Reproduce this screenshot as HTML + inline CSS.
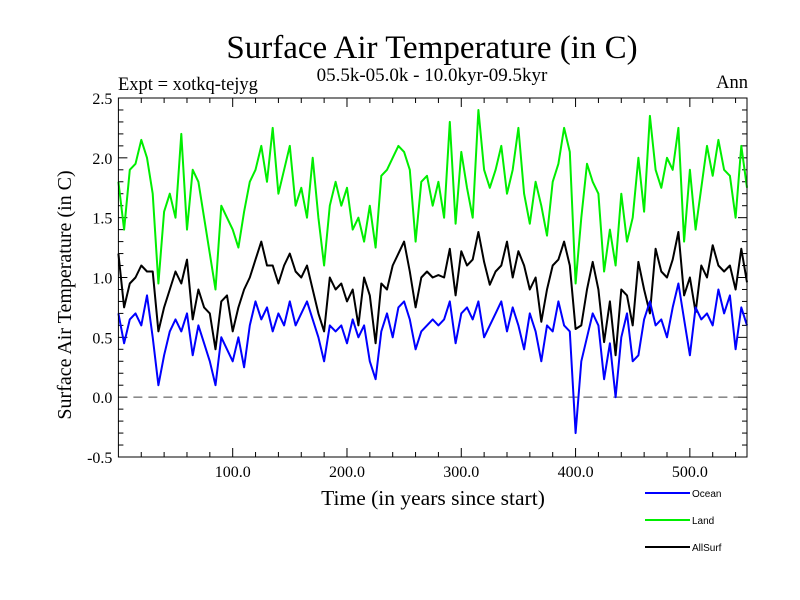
<!DOCTYPE html>
<html><head><meta charset="utf-8"><style>
body{margin:0;background:#fff}
svg{display:block}
text{font-family:"Liberation Serif",serif}
</style></head><body>
<svg id="chart" width="800" height="600">
<text x="432" y="58" font-size="33" text-anchor="middle">Surface Air Temperature (in C)</text>
<text x="432" y="81" font-size="19" text-anchor="middle">05.5k-05.0k - 10.0kyr-09.5kyr</text>
<text x="118" y="90" font-size="18.5">Expt = xotkq-tejyg</text>
<text x="748" y="88" font-size="18.5" text-anchor="end">Ann</text>
<text transform="translate(71,295) rotate(-90)" font-size="20" text-anchor="middle">Surface Air Temperature (in C)</text>
<text x="433" y="505" font-size="21.5" text-anchor="middle">Time (in years since start)</text>
<g id="ticks"></g>
<g id="series"></g>
<rect x="118.4" y="98" width="628.6" height="359" fill="none" stroke="#000" stroke-width="1"/>
<g id="legend"></g>
</svg>
<script>
const years=[];for(let t=0;t<=550;t+=5)years.push(t);
const ocean=[0.7,0.45,0.65,0.7,0.6,0.85,0.5,0.1,0.35,0.55,0.65,0.55,0.7,0.35,0.6,0.45,0.3,0.1,0.5,0.4,0.3,0.5,0.25,0.6,0.8,0.65,0.75,0.55,0.7,0.6,0.8,0.6,0.7,0.8,0.65,0.5,0.3,0.6,0.55,0.6,0.45,0.65,0.5,0.6,0.3,0.15,0.55,0.7,0.5,0.75,0.8,0.65,0.4,0.55,0.6,0.65,0.6,0.65,0.8,0.45,0.7,0.75,0.65,0.8,0.5,0.6,0.7,0.8,0.55,0.75,0.6,0.4,0.7,0.55,0.3,0.6,0.55,0.8,0.6,0.55,-0.3,0.3,0.5,0.7,0.6,0.15,0.45,0.0,0.5,0.7,0.3,0.35,0.65,0.8,0.6,0.65,0.5,0.75,0.95,0.65,0.35,0.75,0.65,0.7,0.6,0.9,0.7,0.85,0.4,0.75,0.6];
const land=[1.8,1.4,1.9,1.95,2.15,2.0,1.7,0.95,1.55,1.7,1.5,2.2,1.4,1.9,1.8,1.5,1.2,0.9,1.6,1.5,1.4,1.25,1.55,1.8,1.9,2.1,1.8,2.25,1.7,1.9,2.1,1.6,1.75,1.5,2.0,1.5,1.1,1.6,1.8,1.6,1.75,1.4,1.5,1.3,1.6,1.25,1.85,1.9,2.0,2.1,2.05,1.9,1.3,1.8,1.85,1.6,1.8,1.5,2.3,1.45,2.05,1.75,1.5,2.4,1.9,1.75,1.9,2.1,1.7,1.9,2.25,1.7,1.45,1.8,1.6,1.35,1.8,1.95,2.25,2.05,0.95,1.5,1.95,1.8,1.7,1.05,1.4,1.1,1.7,1.3,1.5,2.0,1.55,2.35,1.9,1.75,2.0,1.9,2.25,1.3,1.9,1.4,1.75,2.1,1.85,2.15,1.9,1.85,1.5,2.1,1.75];
const allsurf=[1.2,0.75,0.95,1.0,1.1,1.05,1.05,0.55,0.75,0.9,1.05,0.95,1.15,0.65,0.9,0.75,0.7,0.4,0.8,0.85,0.55,0.75,0.9,1.0,1.15,1.3,1.1,1.1,0.95,1.1,1.2,1.05,1.0,1.1,0.9,0.7,0.55,1.0,0.9,0.95,0.8,0.9,0.6,1.0,0.85,0.45,0.95,0.9,1.1,1.2,1.3,1.05,0.75,1.0,1.05,1.0,1.02,1.0,1.24,0.85,1.22,1.1,1.15,1.38,1.13,0.94,1.05,1.1,1.3,1.0,1.22,1.1,0.9,1.0,0.63,0.9,1.1,1.15,1.3,1.1,0.57,0.6,0.9,1.13,0.9,0.46,0.8,0.35,0.9,0.85,0.6,1.13,0.9,0.7,1.24,1.05,1.0,1.15,1.38,0.85,1.0,0.71,1.1,1.0,1.27,1.1,1.05,1.1,0.9,1.24,0.96];
const yTickLabels=["-0.5","0.0","0.5","1.0","1.5","2.0","2.5"];
const xTickLabels=["100.0","200.0","300.0","400.0","500.0"];
const seriesNames=["Ocean","Land","AllSurf"];
const NS='http://www.w3.org/2000/svg';
const X0=118.4,X1=747,Y0=457,Y1=98,XMIN=0,XMAX=550,YMIN=-0.5,YMAX=2.5;
const xs=v=>X0+(v-XMIN)/(XMAX-XMIN)*(X1-X0);
const ys=v=>Y0-(v-YMIN)/(YMAX-YMIN)*(Y0-Y1);
function mk(tag,attrs,parent){const e=document.createElementNS(NS,tag);for(const k in attrs)e.setAttribute(k,attrs[k]);parent.appendChild(e);return e;}
const tg=document.getElementById('ticks');
for(let i=0;i<=30;i++){const v=YMIN+i*0.1;const y=ys(v);const L=(i%5===0)?9:5;
 const a=mk('line',{x1:X0,x2:X0+L,y1:y,y2:y,stroke:'#000'},tg);
 
 
 const b=mk('line',{x1:X1,x2:X1-L,y1:y,y2:y,stroke:'#000'},tg);
 
 }
yTickLabels.forEach(s=>{const t=mk('text',{x:X0-6,y:ys(parseFloat(s))+6,'font-size':16,'text-anchor':'end'},tg);t.textContent=s;
 
 });
for(let v=20;v<XMAX;v+=20){const x=xs(v);const L=(v%100===0)?9:5;
 const a=mk('line',{x1:x,x2:x,y1:Y0,y2:Y0-L,stroke:'#000'},tg);
 
 
 const b=mk('line',{x1:x,x2:x,y1:Y1,y2:Y1+L,stroke:'#000'},tg);
 
 }
xTickLabels.forEach(s=>{const t=mk('text',{x:xs(parseFloat(s)),y:Y0+20,'font-size':16,'text-anchor':'middle'},tg);t.textContent=s;
 
 });
const zl=mk('line',{x1:X0,x2:X1,y1:ys(0),y2:ys(0),stroke:'#444','stroke-dasharray':'9,6'},tg);


const sg=document.getElementById('series');
const colors=['#0000ff','#00ee00','#000000'];
const order=[1,2,0];
const data=[ocean,land,allsurf];
order.forEach(k=>{const d=data[k].map((v,i)=>(i?'L':'M')+xs(years[i]).toFixed(1)+','+ys(v).toFixed(1)).join('');
 const p=mk('path',{d:d,fill:'none',stroke:colors[k],'stroke-width':2,'stroke-linejoin':'round'},sg);
 
 });
const lg=document.getElementById('legend');
seriesNames.forEach((n,i)=>{const y=493+i*27;
 const l=mk('line',{x1:645,x2:690,y1:y,y2:y,stroke:colors[i],'stroke-width':2},lg);
 
 
 const t=mk('text',{x:692,y:y+4,'font-size':10,style:'font-family:"Liberation Sans",sans-serif'},lg);t.textContent=n;
 
 });
</script>
</body></html>
